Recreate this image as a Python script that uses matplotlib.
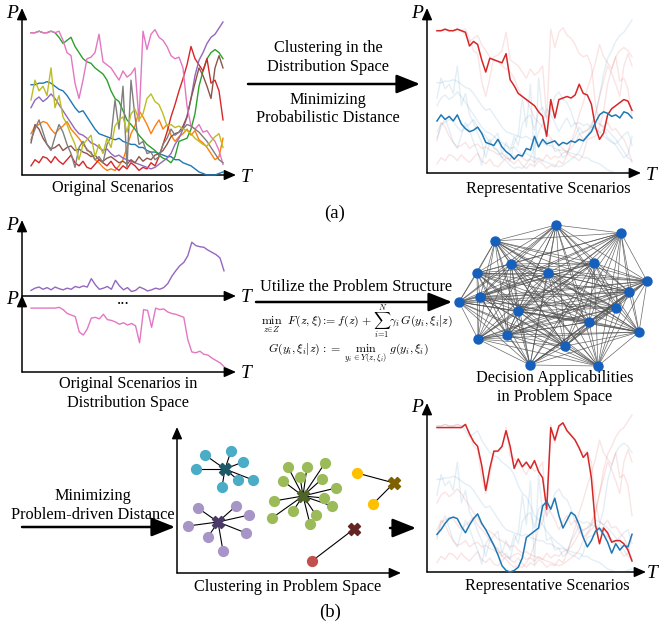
import numpy as np
import matplotlib
matplotlib.use("Agg")
import matplotlib.pyplot as plt

plt.rcParams['font.family'] = ['Liberation Serif', 'DejaVu Serif']

W, H = 659, 629
FS = 11.7

# original scenarios (normalised 0-100)
s_blue = [59, 59, 60, 60, 61, 60, 58, 56, 55, 52, 48, 44, 41, 42, 38, 34, 30, 27, 26, 25, 24, 23, 24, 22, 21,
          20, 20, 18, 18, 16, 15, 15, 14, 13, 12, 12, 10, 10, 8, 7, 6, 4, 2, 1, 0, 0, 0, 1, 2]
s_orange = [27, 32, 33, 35, 34, 30, 27, 30, 32, 35, 30, 27, 24, 20, 17, 14, 10, 8, 5, 3, 4, 3, 6, 10, 18,
            27, 32, 42, 38, 33, 27, 32, 36, 30, 33, 26, 22, 25, 27, 30, 26, 29, 23, 21, 18, 14, 10, 12, 24]
s_green = [93, 93, 94, 93, 93, 94, 93, 90, 86, 88, 90, 84, 80, 76, 74, 73, 70, 68, 66, 62, 55, 50, 48, 42, 36,
           33, 30, 26, 23, 20, 18, 16, 13, 11, 10, 8, 12, 22, 23, 24, 30, 40, 58, 68, 76, 80, 82, 80, 76]
s_red = [6, 10, 8, 12, 11, 8, 12, 9, 7, 10, 13, 8, 6, 9, 5, 4, 7, 10, 8, 6, 9, 5, 3, 6, 4,
         8, 6, 3, 5, 4, 8, 6, 12, 20, 28, 38, 46, 55, 63, 72, 84, 76, 72, 68, 76, 60, 62, 55, 36]
s_purple = [44, 49, 51, 48, 50, 53, 50, 46, 42, 38, 34, 30, 27, 26, 24, 21, 20, 18, 16, 17, 14, 12, 13, 11, 10,
            9, 8, 7, 6, 5, 4, 5, 7, 9, 11, 14, 20, 24, 30, 38, 50, 65, 75, 80, 86, 90, 92, 96, 100]
s_brown = [21, 33, 30, 24, 20, 17, 18, 20, 16, 18, 19, 16, 17, 15, 14, 12, 13, 10, 9, 11, 12, 10, 8, 9, 7,
           10, 8, 12, 9, 11, 10, 13, 14, 16, 20, 25, 27, 28, 32, 38, 50, 60, 70, 65, 58, 50, 70, 78, 70]
s_pink = [93, 93, 94, 93, 93, 94, 93, 94, 88, 80, 78, 60, 50, 62, 76, 77, 80, 92, 74, 72, 70, 66, 62, 68, 64,
          66, 70, 35, 94, 82, 92, 95, 90, 88, 84, 78, 76, 77, 70, 45, 32, 30, 33, 28, 29, 25, 22, 16, 7]
s_gray = [23, 30, 36, 28, 20, 16, 25, 33, 28, 20, 14, 5, 18, 22, 16, 15, 10, 12, 8, 20, 25, 49, 30, 58, 5,
          62, 38, 20, 22, 14, 15, 10, 12, 20, 24, 30, 26, 28, 30, 33, 32, 30, 28, 25, 22, 18, 14, 10, 8]
s_olive = [49, 62, 55, 58, 52, 70, 44, 52, 38, 33, 26, 20, 10, 20, 23, 26, 12, 20, 14, 24, 18, 32, 36, 38, 28,
           40, 43, 36, 40, 50, 53, 48, 46, 40, 32, 33, 31, 32, 30, 29, 27, 24, 22, 20, 19, 22, 25, 27, 18]

scenarios = [s_blue, s_orange, s_green, s_red, s_purple, s_brown, s_pink, s_gray, s_olive]
scen_colors = ['#1f77b4', '#ff7f0e', '#2ca02c', '#d62728', '#9467bd',
               '#8c564b', '#e377c2', '#7f7f7f', '#bcbd22']

# cluster membership of each scenario (1 = red cluster, 0 = blue cluster)
member_dist = [0, 0, 1, 1, 0, 1, 1, 0, 0]
member_prob = [0, 1, 0, 1, 1, 1, 1, 0, 0]

# representatives from probabilistic distance
rep_a_red = [93, 93, 94, 93, 93, 94, 93, 92, 83, 86, 84, 74, 66, 75, 74, 73, 72, 78, 61, 57, 52, 50, 48, 46, 44,
             40, 37, 24, 48, 36, 48, 49, 50, 49, 51, 58, 52, 51, 45, 30, 22, 26, 38, 42, 44, 46, 48, 47, 41]
rep_a_blue = [34, 38, 35, 37, 34, 38, 32, 29, 27, 28, 30, 26, 20, 19, 18, 22, 17, 14, 12, 9, 12, 11, 16, 15, 24,
              17, 22, 19, 20, 21, 18, 20, 19, 21, 20, 22, 21, 24, 27, 33, 38, 40, 39, 37, 38, 36, 40, 39, 36]

# representatives from problem-driven distance
rep_b_red = [92, 92, 92, 92, 92, 92, 92, 94, 88, 83, 80, 68, 52, 66, 77, 77, 80, 90, 80, 66, 72, 67, 70, 66, 71,
             64, 60, 40, 92, 84, 93, 95, 90, 87, 84, 79, 73, 76, 60, 30, 18, 28, 25, 19, 20, 20, 18, 14, 7]
rep_b_blue = [24, 27, 31, 34, 35, 34, 29, 25, 30, 34, 37, 31, 27, 22, 17, 11, 4, 1, 0, 1, 3, 9, 22, 24, 26,
              28, 42, 45, 40, 47, 36, 28, 33, 38, 36, 30, 22, 16, 20, 26, 28, 24, 19, 12, 18, 14, 17, 16, 24]

# single scenarios shown in distribution space
dist_purple = [10, 14, 16, 12, 15, 11, 16, 13, 11, 14, 12, 17, 15, 18, 16, 31, 20, 12, 14, 17, 12, 28, 18, 11, 15,
               8, 10, 16, 13, 9, 11, 14, 12, 15, 22, 35, 45, 54, 60, 72, 96, 90, 88, 87, 82, 78, 74, 68, 45]
dist_pink = [83, 83, 83, 83, 83, 83, 83, 84, 81, 76, 74, 72, 52, 48, 56, 70, 71, 69, 75, 68, 67, 65, 62, 64, 61,
             63, 60, 38, 81, 80, 58, 83, 81, 82, 78, 76, 75, 73, 71, 42, 26, 25, 27, 23, 22, 18, 15, 12, 7]

# decision-applicability graph nodes
node_x = [556, 621, 495, 511, 594, 477, 548, 647, 629, 459, 480, 616, 518, 589, 639, 507, 478, 565, 530, 598]
node_y = [225, 233, 241, 264, 263, 273, 273, 281, 292, 302, 297, 308, 311, 322, 332, 335, 339, 346, 365, 366]

# clusters in problem space: centre, members, colours
clusters = [
    dict(cx=225, cy=469, px=[205, 231, 243, 196, 238, 253, 222], py=[455, 451, 462, 469, 480, 480, 487],
         color='#4bacc6', ccolor='#1d5a69'),
    dict(cx=218, cy=522, px=[198, 236, 249, 188, 246, 208, 223], py=[508, 506, 515, 526, 533, 537, 551],
         color='#a795c7', ccolor='#4a3a68'),
    dict(cx=303, cy=496, px=[288, 307, 325, 283, 300, 322, 336, 274, 324, 332, 293, 316, 272, 310],
         py=[467, 467, 463, 481, 477, 479, 488, 501, 498, 506, 511, 515, 518, 524],
         color='#9bbb59', ccolor='#4f6228'),
    dict(cx=394, cy=483, px=[357, 373], py=[473, 504], color='#ffc000', ccolor='#7f6000'),
    dict(cx=354, cy=529, px=[312], py=[561], color='#c0504d', ccolor='#632523'),
]

fig = plt.figure(figsize=(W / 100, H / 100), dpi=100)
ax = fig.add_axes([0, 0, 1, 1])
ax.set_xlim(0, W)
ax.set_ylim(H, 0)
ax.axis('off')


def arrow(x0, y0, x1, y1, lw=1.1, style='-|>,head_length=0.5,head_width=0.22', ms=14):
    ax.annotate('', xy=(x1, y1), xytext=(x0, y0),
                arrowprops=dict(arrowstyle=style, lw=lw, color='black',
                                mutation_scale=ms, shrinkA=0, shrinkB=0))


def axes_pair(x0, y0, xtip, ytip, labels=True, tx=None):
    arrow(x0, y0, x0, ytip)
    arrow(x0, y0, xtip, y0)
    if labels:
        ax.text(x0 - 10, ytip + 5, 'P', fontsize=14, style='italic', ha='center', va='center')
        ax.text(xtip + 10 if tx is None else tx, y0 + 2, 'T', fontsize=14, style='italic',
                ha='center', va='center')


def panel(x0, x1, y_top, y_bot):
    p = fig.add_axes([x0 / W, 1 - y_bot / H, (x1 - x0) / W, (y_bot - y_top) / H])
    p.set_xlim(0, 1)
    p.set_ylim(0, 100)
    p.axis('off')
    return p


def big_arrow(x0, x1, y):
    arrow(x0, y, x1, y, lw=1.8, style='-|>,head_length=0.8,head_width=0.32', ms=18)


def label(x, y, s, size=FS):
    ax.text(x, y, s, fontsize=size, ha='center', va='center')


# (a) original scenarios
axes_pair(22, 175, 236, 8)
p1 = panel(31, 223, 22, 175)
for s, c in zip(scenarios, scen_colors):
    p1.plot(np.linspace(0, 1, len(s)), s, color=c, lw=1.0, clip_on=False)
label(113, 188, 'Original Scenarios')

big_arrow(248, 420, 84)
label(328, 48, 'Clustering in the')
label(328, 67, 'Distribution Space')
label(328, 100, 'Minimizing')
label(328, 118, 'Probabilistic Distance')

# (a) representative scenarios
axes_pair(427, 173, 641, 8)
p2 = panel(437, 632, 20, 173)
for s, m in zip(scenarios, member_dist):
    p2.plot(np.linspace(0, 1, len(s)), s, color='#d62728' if m else '#1f77b4', lw=1.0, alpha=0.12,
            clip_on=False)
p2.plot(np.linspace(0, 1, len(rep_a_red)), rep_a_red, color='#d62728', lw=1.1, clip_on=False)
p2.plot(np.linspace(0, 1, len(rep_a_blue)), rep_a_blue, color='#1f77b4', lw=1.1, clip_on=False)
label(548, 189, 'Representative Scenarios')
label(335, 213, '(a)', size=13.5)

# (b) scenarios in distribution space
axes_pair(22, 296, 236, 220)
axes_pair(22, 372, 236, 295)
p3a = panel(31, 224, 240, 296)
p3a.plot(np.linspace(0, 1, len(dist_purple)), dist_purple, color='#9467bd', lw=1.0, clip_on=False)
p3b = panel(31, 224, 295, 372)
p3b.plot(np.linspace(0, 1, len(dist_pink)), dist_pink, color='#e377c2', lw=1.0, clip_on=False)
ax.text(123, 300, '...', fontsize=12, ha='center', va='center')
label(128, 384, 'Original Scenarios in')
label(128, 403, 'Distribution Space')

big_arrow(256, 452, 302)
label(356, 287, 'Utilize the Problem Structure')
ax.text(357, 321,
        r'$\min_{z\in Z}\ \ F(z,\mathbf{\xi})\;\!:=\;f(z)\;+\;\sum_{i=1}^{N}\gamma_i G(y_i,\xi_i|z)$',
        fontsize=8.6, ha='center', va='center', math_fontfamily='cm')
ax.text(348, 353, r'$G(y_i,\xi_i|z)\;\!:=\;\min_{y_i\in Y(z,\xi_i)}\ g(y_i,\xi_i)$',
        fontsize=8.6, ha='center', va='center', math_fontfamily='cm')

# decision applicability graph (fully connected)
n_nodes = len(node_x)
for i in range(n_nodes):
    for j in range(i + 1, n_nodes):
        ax.plot([node_x[i], node_x[j]], [node_y[i], node_y[j]], color='#505050', lw=0.5, alpha=0.85)
ax.scatter(node_x, node_y, s=42, color='#1560bd', zorder=5)
label(555, 378, 'Decision Applicabilities')
label(555, 397, 'in Problem Space')

# clustering in problem space
big_arrow(22, 175, 527)
label(93, 496, 'Minimizing')
label(93, 515, 'Problem-driven Distance')
axes_pair(177, 573, 401, 427, labels=False)
for cl in clusters:
    for x, y in zip(cl['px'], cl['py']):
        ax.plot([cl['cx'], x], [cl['cy'], y], color='black', lw=0.8, zorder=3)
    ax.scatter(cl['px'], cl['py'], s=50, color=cl['color'], zorder=4)
    ax.scatter([cl['cx']], [cl['cy']], s=75, marker='X', color=cl['ccolor'], zorder=5)
label(288, 587, 'Clustering in Problem Space')

big_arrow(390, 416, 528)

# (b) representative scenarios
axes_pair(427, 572, 646, 403, tx=652)
p4 = panel(437, 632, 415, 572)
for s, m in zip(scenarios, member_prob):
    p4.plot(np.linspace(0, 1, len(s)), s, color='#d62728' if m else '#1f77b4', lw=1.0, alpha=0.12,
            clip_on=False)
p4.plot(np.linspace(0, 1, len(rep_b_red)), rep_b_red, color='#d62728', lw=1.1, clip_on=False)
p4.plot(np.linspace(0, 1, len(rep_b_blue)), rep_b_blue, color='#1f77b4', lw=1.1, clip_on=False)
label(547, 586, 'Representative Scenarios')
label(330, 612, '(b)', size=13.5)

fig.savefig('out.png', dpi=100)
